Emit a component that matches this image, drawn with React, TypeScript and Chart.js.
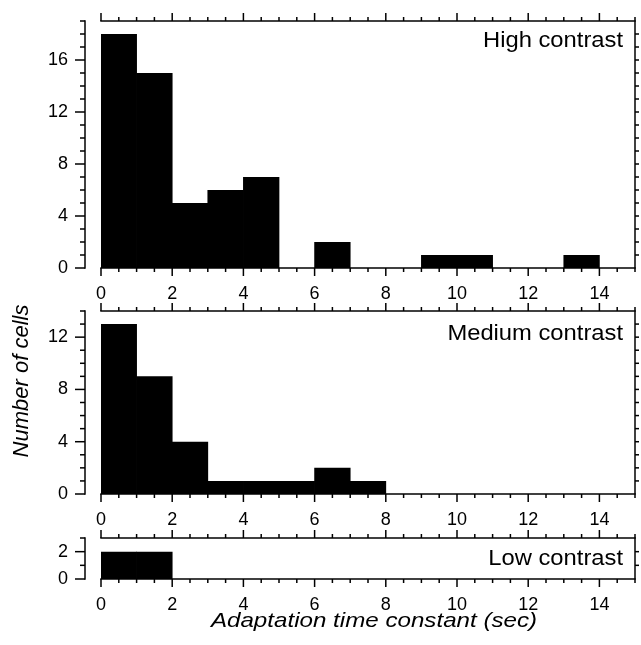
import React, { useEffect, useRef } from "react";
import { Chart, registerables } from "chart.js";

Chart.register(...registerables);

// ---- data ----
const binStarts = [0, 1, 2, 3, 4, 5, 6, 7, 8, 9, 10, 11, 12, 13, 14];
const binWidth = 1;
const highCounts = [18, 15, 5, 6, 7, 0, 2, 0, 0, 1, 1, 0, 0, 1, 0];
const mediumCounts = [13, 9, 4, 1, 1, 1, 2, 1, 0, 0, 0, 0, 0, 0, 0];
const lowCounts = [2, 2, 0, 0, 0, 0, 0, 0, 0, 0, 0, 0, 0, 0, 0];
const panelLabels = ["High contrast", "Medium contrast", "Low contrast"];
const panelCounts = [highCounts, mediumCounts, lowCounts];
const yMaxes = [19, 14, 3];
const yLabelSteps = [4, 4, 2];
const xMin = 0;
const xMax = 15;
const xLabelStep = 2;
const xMinorStep = 0.5;
const xTitle = "Adaptation time constant (sec)";
const yTitle = "Number of cells";

// ---- layout (pixels) ----
const W = 641;
const H = 645;
const FONT = "Arial, 'Liberation Sans', Helvetica, sans-serif";
const panelTops = [21, 311, 538];
const panelBottoms = [268, 494, 579];
const labelBaselineOffsets = [26, 29, 27];
const PLOT_LEFT = 101;
const PLOT_RIGHT = 635;
const X_AXIS_H = 40;

function makePlugin(i: number) {
  return {
    id: "axesDecor" + i,
    afterDraw(chart: any) {
      const { ctx, chartArea } = chart;
      const { left, right, top, bottom } = chartArea;
      const xs = chart.scales.x;
      const ys = chart.scales.y;
      const yMax = yMaxes[i];
      const major = yLabelSteps[i];
      ctx.save();
      ctx.strokeStyle = "#000";
      ctx.lineWidth = 1.5;
      ctx.lineCap = "butt";
      const line = (x1: number, y1: number, x2: number, y2: number) => {
        ctx.beginPath();
        ctx.moveTo(x1, y1);
        ctx.lineTo(x2, y2);
        ctx.stroke();
      };
      // frame
      line(left - 0.75, top, right + 0.75, top);
      line(left - 0.75, bottom, right + 0.75, bottom);
      line(right, top, right, bottom);
      // offset left spine
      const sx = left - 16;
      line(sx, ys.getPixelForValue(yMax) - 0.75, sx, ys.getPixelForValue(0) + 0.75);
      for (let v = 0; v <= yMax; v++) {
        const py = ys.getPixelForValue(v);
        const len = v % major === 0 ? 10 : 5;
        line(sx - len, py, sx, py);
        if (v > 0 && v < yMax) line(right, py, right + 4, py);
      }
      // x ticks top & bottom
      for (let v = xMin; v <= xMax + 1e-9; v += xMinorStep) {
        const px = xs.getPixelForValue(v);
        const isMajor = Math.abs(v % xLabelStep) < 1e-9;
        const len = isMajor ? 8 : 4;
        line(px, top, px, top - len);
        line(px, bottom, px, bottom + len);
      }
      // panel label
      ctx.fillStyle = "#000";
      ctx.font = `22px ${FONT}`;
      ctx.textAlign = "right";
      ctx.textBaseline = "alphabetic";
      ctx.save();
      ctx.translate(right - 12, top + labelBaselineOffsets[i]);
      ctx.scale(1.08, 1);
      ctx.fillText(panelLabels[i], 0, 0);
      ctx.restore();
      if (i === 1) {
        ctx.save();
        ctx.font = `italic 22px ${FONT}`;
        ctx.textAlign = "center";
        ctx.textBaseline = "middle";
        ctx.translate(22, 381);
        ctx.rotate(-Math.PI / 2);
        ctx.fillText(yTitle, 0, 0);
        ctx.restore();
      }
      if (i === 2) {
        ctx.save();
        ctx.font = `italic 21px ${FONT}`;
        ctx.textAlign = "center";
        ctx.textBaseline = "alphabetic";
        ctx.translate((left + right) / 2 + 6, 627);
        ctx.scale(1.15, 1);
        ctx.fillText(xTitle, 0, 0);
        ctx.restore();
      }
      ctx.restore();
    },
  };
}

function makeConfig(i: number): any {
  const counts = panelCounts[i];
  return {
    type: "bar",
    data: {
      datasets: [
        {
          data: counts.map((c, k) => ({ x: binStarts[k] + binWidth / 2, y: c })),
          backgroundColor: "#000",
          borderWidth: 0,
          barPercentage: 1.02,
          categoryPercentage: 1,
        },
      ],
    },
    options: {
      responsive: false,
      animation: false,
      devicePixelRatio: 1,
      events: [],
      layout: {
        padding: {
          top: panelTops[i],
          bottom: H - panelBottoms[i] - X_AXIS_H,
          left: 0,
          right: W - PLOT_RIGHT,
        },
      },
      plugins: { legend: { display: false }, tooltip: { enabled: false }, title: { display: false } },
      scales: {
        x: {
          type: "linear",
          min: xMin,
          max: xMax,
          offset: false,
          grid: { display: false, offset: false, drawTicks: false },
          border: { display: false },
          ticks: {
            stepSize: xLabelStep,
            includeBounds: false,
            autoSkip: false,
            maxRotation: 0,
            color: "#000",
            padding: 15,
            font: { family: FONT, size: 18 },
          },
          afterFit: (s: any) => {
            s.height = X_AXIS_H;
          },
        },
        y: {
          type: "linear",
          min: 0,
          max: yMaxes[i],
          grid: { display: false, drawTicks: true, tickLength: 28 },
          border: { display: false },
          ticks: {
            stepSize: yLabelSteps[i],
            includeBounds: false,
            color: "#000",
            padding: 5,
            font: { family: FONT, size: 18 },
          },
          afterFit: (s: any) => {
            s.width = PLOT_LEFT;
          },
        },
      },
    },
    plugins: [makePlugin(i)],
  };
}

export default function App() {
  const r0 = useRef<HTMLCanvasElement>(null);
  const r1 = useRef<HTMLCanvasElement>(null);
  const r2 = useRef<HTMLCanvasElement>(null);
  useEffect(() => {
    const refs = [r0, r1, r2];
    const charts = refs.map((r, i) => new Chart(r.current as HTMLCanvasElement, makeConfig(i)));
    return () => charts.forEach((c) => c.destroy());
  }, []);
  const st: React.CSSProperties = { position: "absolute", left: 0, top: 0, width: W, height: H };
  return (
    <div style={{ position: "absolute", left: 0, top: 0, width: W, height: H, background: "#fff" }}>
      <canvas ref={r0} width={W} height={H} style={st} />
      <canvas ref={r1} width={W} height={H} style={st} />
      <canvas ref={r2} width={W} height={H} style={st} />
    </div>
  );
}
